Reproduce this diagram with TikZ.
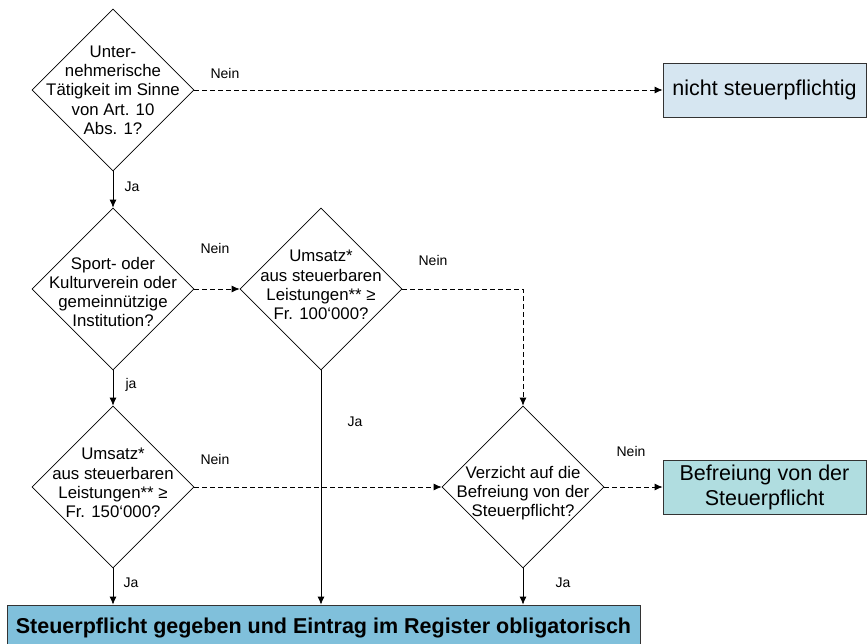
\documentclass[tikz,border=0pt]{standalone}
\usepackage{fontspec}
\setmainfont{Liberation Sans}
\usetikzlibrary{shapes.geometric,arrows.meta}

\definecolor{hellblau}{RGB}{214,230,241}
\definecolor{tuerkis}{RGB}{176,221,224}
\definecolor{mittelblau}{RGB}{128,192,219}

\tikzset{
    frage/.style={draw, diamond, shape aspect=1, minimum width=162pt, minimum height=162pt, inner sep=0pt, line width=0.7pt},
    fragetext/.style={align=center, inner sep=0pt, font=\fontsize{16.8}{19.3}\selectfont},
    antwort/.style={inner sep=0pt, font=\fontsize{14}{16}\selectfont},
    ergebnis/.style={draw=black!80, line width=0.8pt, align=center, inner sep=0pt},
    ja/.style={line width=0.8pt, -{Latex[length=8pt,width=7pt]}},
    nein/.style={ja, dash pattern=on 5pt off 3pt}
}

\begin{document}
\begin{tikzpicture}[x=1pt, y=-1pt]
                    \useasboundingbox (0,0) rectangle (867,643);
                    \clip (0,0) rectangle (867,643);

                    % Fragen
                    \node[frage] (F1) at (113, 90) {};
                    \node[frage] (F2) at (113, 289) {};
                    \node[frage] (F3) at (321, 289) {};
                    \node[frage] (F5) at (113, 487) {};
                    \node[frage] (F4) at (523, 487) {};

                    \node[fragetext] (T1) at (F1) {Unter-\\nehmerische\\Tätigkeit im Sinne\\von Art. 10\\Abs. 1?};
                    \node[fragetext, yshift=-3pt] (T2) at (F2) {Sport- oder\\Kulturverein oder\\gemeinnützige\\Institution?};
                    \node[fragetext, yshift=4pt] (T3) at (F3) {Umsatz*\\aus steuerbaren\\Leistungen** ≥\\Fr. 100‘000?};
                    \node[fragetext, yshift=4pt] (T5) at (F5) {Umsatz*\\aus steuerbaren\\Leistungen** ≥\\Fr. 150‘000?};
                    \node[fragetext, yshift=-6pt] (T4) at (F4) {Verzicht auf die\\Befreiung von der\\Steuerpflicht?};

                    % Ergebnisse
                    \node[ergebnis, fill=hellblau, minimum width=203pt, minimum height=54pt,
                          font=\fontsize{21.5}{25}\selectfont] (NS) at (764.5, 90) {nicht steuerpflichtig};
                    \node[ergebnis, fill=tuerkis, minimum width=203pt, minimum height=54pt,
                          font=\fontsize{21.5}{25}\selectfont] (BF) at (764.5, 487) {Befreiung von der\\Steuerpflicht};
                    \node[ergebnis, fill=mittelblau, minimum width=633pt, minimum height=46pt,
                          font=\fontsize{21.5}{25}\selectfont\bfseries] (SP) at (323.5, 628) {Steuerpflicht gegeben und Eintrag im Register obligatorisch};

                    % Verbindungen
                    \draw[nein] (F1.east) -- (NS.west);
                    \draw[ja]   (F1.south) -- (F2.north);
                    \draw[nein] (F2.east) -- (F3.west);
                    \draw[nein] (F3.east) -| (F4.north);
                    \draw[ja]   (F2.south) -- (F5.north);
                    \draw[nein] (F5.east) -- (F4.west);
                    \draw[nein] (F4.east) -- (BF.west);
                    \draw[ja]   (F5.south) -- (F5.south |- SP.north);
                    \draw[ja]   (F3.south) -- (F3.south |- SP.north);
                    \draw[ja]   (F4.south) -- (F4.south |- SP.north);

                    % Beschriftungen
                    \node[antwort] (L1) at (225, 73) {Nein};
                    \node[antwort] (L2) at (132, 187) {Ja};
                    \node[antwort] (L3) at (215, 248) {Nein};
                    \node[antwort] (L4) at (433, 260) {Nein};
                    \node[antwort] (L5) at (131, 385) {ja};
                    \node[antwort] (L6) at (355, 422) {Ja};
                    \node[antwort] (L7) at (215, 459) {Nein};
                    \node[antwort] (L8) at (631, 451) {Nein};
                    \node[antwort] (L9) at (131, 583) {Ja};
                    \node[antwort] (L10) at (563, 583) {Ja};

                \end{tikzpicture}
\end{document}
